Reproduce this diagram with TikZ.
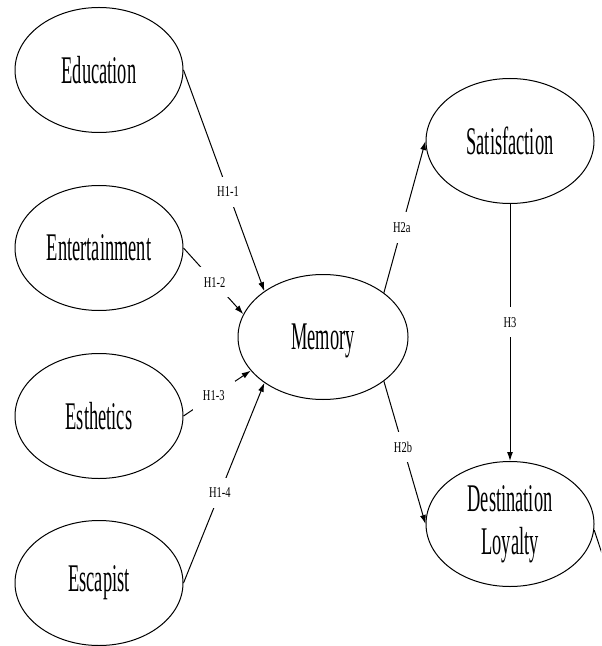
\documentclass[tikz,border=0pt]{standalone}
\usepackage{fontspec}
\setmainfont{Liberation Serif}
\newfontfamily\constructfont[FakeStretch=0.47]{Liberation Serif}
\newfontfamily\hypfont[FakeStretch=0.7]{Liberation Serif}
\usetikzlibrary{positioning, shapes.geometric, arrows.meta}

\begin{document}
\begin{tikzpicture}[x=0.5pt, y=-0.5pt,
  construct/.style={draw, ellipse, line width=0.5pt, inner sep=0pt,
    minimum width=84pt, minimum height=62.5pt, align=center,
    font=\constructfont\fontsize{19.6}{21.5}\selectfont},
  hyp/.style={fill=white, inner sep=5pt, font=\hypfont\fontsize{7.5}{9}\selectfont},
  link/.style={-{Latex[length=4.5pt,width=3pt]}, line width=0.5pt}]

\path[use as bounding box, clip] (0,0) rectangle (601,646);

\node[construct] (edu) at (99,70) {Education};
\node[construct] (ent) at (99,248) {Entertainment};
\node[construct] (est) at (99,416) {Esthetics};
\node[construct] (esc) at (99,583) {Escapist};
\node[construct, minimum width=85pt, text depth=0pt] (mem) at (323,337) {Memory};
\node[construct] (sat) at (510,141) {Satisfaction};
\node[construct] (loy) at (510,524) {Destination\\Loyalty};
\coordinate (offpage) at (614,590);

\draw[link] (edu.east) -- node[hyp, pos=0.55] {H1-1} (mem.142);
\draw[link] (ent.east) -- node[hyp, pos=0.52] {H1-2} (mem.164);
\draw[link] (est.east) -- node[hyp, pos=0.45] {H1-3} (mem.205);
\draw[link] (esc.east) -- node[hyp, pos=0.45] {H1-4} (mem.218);
\draw[link] (mem.36) -- node[hyp, pos=0.43] {H2a} (sat.west);
\draw[link] (mem.-36) -- node[hyp, pos=0.46] {H2b} (loy.west);
\draw[link] (sat.south) -- node[hyp, pos=0.46] {H3} (loy.north);
\draw[line width=0.5pt] (loy.-4) -- (offpage);

\end{tikzpicture}
\end{document}
